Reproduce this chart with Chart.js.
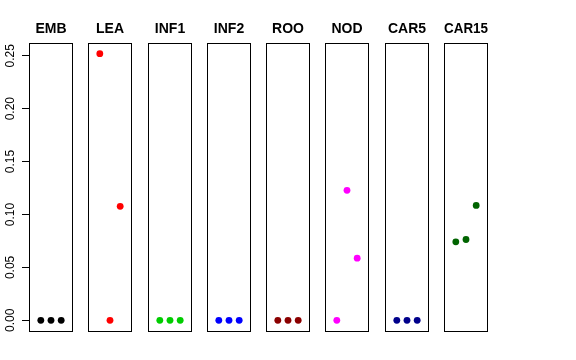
<!DOCTYPE html>
<html>
<head>
<meta charset="utf-8">
<script src="https://cdn.jsdelivr.net/npm/chart.js@4"></script>
<style>
  html, body { margin: 0; padding: 0; background: #fff; }
  #wrap { position: relative; width: 576px; height: 360px; overflow: hidden; }
  #wrap canvas { position: absolute; top: 0; }
</style>
</head>
<body>
<div id="wrap"></div>
<script>
// panel names and colours
const tissues = ["EMB", "LEA", "INF1", "INF2", "ROO", "NOD", "CAR5", "CAR15"];
const colors = ["#000000", "#FF0000", "#00CD00", "#0000FF", "#8B0000", "#FF00FF", "#00008B", "#006400"];

// three points per panel (x = 1, 2, 3)
const xs = [1, 2, 3];
const values = [
  [0, 0, 0],
  [0.252, 0, 0.1077],
  [0, 0, 0],
  [0, 0, 0],
  [0, 0, 0],
  [0, 0.1229, 0.0587],
  [0, 0, 0],
  [0.0742, 0.0764, 0.1086]
];

// y axis ticks
const yTicks = [0, 0.05, 0.10, 0.15, 0.20, 0.25];

// R style padded ranges
const yMin = -0.01008, yMax = 0.26208;
const xMin = -0.16, xMax = 4.16;

const panelLeft = [29, 88, 148, 207, 266, 325, 385, 444];
const panelW = 44;
const side = 8;

// box around each panel
const boxPlugin = {
  id: "box",
  afterDraw(chart) {
    const a = chart.chartArea, ctx = chart.ctx;
    ctx.save();
    ctx.strokeStyle = "#000";
    ctx.lineWidth = 1;
    ctx.strokeRect(Math.round(a.left) + 0.5, Math.round(a.top) + 0.5,
      Math.round(a.right - a.left) - 1, Math.round(a.bottom - a.top));
    ctx.restore();
  }
};

// rotated tick labels on the left axis (first panel only)
const yLabelPlugin = {
  id: "ylabels",
  afterDraw(chart) {
    const y = chart.scales.y, ctx = chart.ctx;
    ctx.save();
    ctx.fillStyle = "#000";
    ctx.font = "12px 'Liberation Sans', Arial, sans-serif";
    ctx.textAlign = "center";
    ctx.textBaseline = "alphabetic";
    yTicks.forEach(v => {
      ctx.save();
      ctx.translate(13.5, y.getPixelForValue(v));
      ctx.rotate(-Math.PI / 2);
      ctx.fillText(v.toFixed(2), 0, 0);
      ctx.restore();
    });
    ctx.restore();
  }
};

const wrap = document.getElementById("wrap");

tissues.forEach((name, i) => {
  const first = i === 0;
  const cv = document.createElement("canvas");
  const left = first ? 0 : panelLeft[i] - side;
  const width = first ? panelLeft[i] + panelW + side : panelW + 2 * side;
  cv.style.left = left + "px";
  cv.style.width = width + "px";
  cv.style.height = "360px";
  cv.width = width;
  cv.height = 360;
  wrap.appendChild(cv);

  const yScale = {
    type: "linear",
    min: yMin,
    max: yMax,
    display: first,
    border: { display: false },
    grid: { drawOnChartArea: false, drawTicks: true, tickLength: 7, color: "#000", lineWidth: 1 },
    ticks: { display: false, includeBounds: false, stepSize: 0.05 }
  };
  if (first) yScale.afterFit = scale => { scale.width = panelLeft[0]; };

  new Chart(cv, {
    type: "scatter",
    data: {
      datasets: [{
        data: xs.map((x, j) => ({ x: x, y: values[i][j] })),
        backgroundColor: colors[i],
        borderWidth: 0,
        pointRadius: 3.4,
        pointHoverRadius: 3.4
      }]
    },
    options: {
      responsive: false,
      animation: false,
      events: [],
      layout: { padding: { left: first ? 0 : side, right: side, top: 0, bottom: 29 } },
      plugins: {
        legend: { display: false },
        tooltip: { enabled: false },
        title: {
          display: true,
          text: name,
          fullSize: false,
          color: "#000",
          font: { family: "'Liberation Sans', Arial, sans-serif", size: 14, weight: "bold", lineHeight: 16 / 14 },
          padding: { top: 21, bottom: 6 }
        }
      },
      scales: {
        x: { type: "linear", min: xMin, max: xMax, display: false },
        y: yScale
      }
    },
    plugins: first ? [boxPlugin, yLabelPlugin] : [boxPlugin]
  });
});
</script>
</body>
</html>
